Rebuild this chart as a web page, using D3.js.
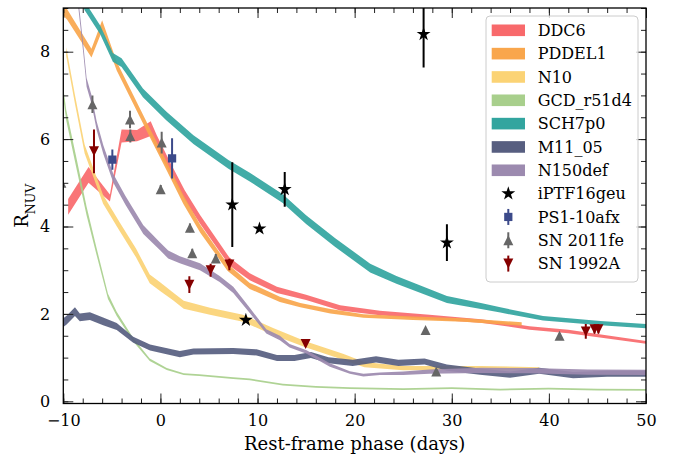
<!DOCTYPE html>
<html>
<head>
<meta charset="utf-8">
<script src="https://cdn.jsdelivr.net/npm/d3@7"></script>
</head>
<body style="margin:0">
<svg id="chart" width="681" height="456"></svg>
<script>
// model bands: [phase, R_NUV, half width]
const ddc6 = [[-9.5, 4.45, 0.18], [-7.4, 5.18, 0.18], [-5.2, 4.65, 0.08], [-4.0, 6.07, 0.15], [-2.4, 6.08, 0.13], [-1.0, 6.24, 0.17], [-0.4, 5.95, 0.15], [1.0, 5.35, 0.12], [2.5, 4.72, 0.11], [4.1, 4.16, 0.1], [7.1, 3.2, 0.09], [9.2, 2.85, 0.08], [12, 2.55, 0.07], [15, 2.38, 0.06], [18.5, 2.14, 0.06], [22.6, 2.02, 0.05], [27.7, 1.93, 0.05], [33, 1.84, 0.04], [38, 1.68, 0.04], [42, 1.6, 0.04], [50, 1.35, 0.03]];
const pddel1 = [[-10, 8.95, 0.12], [-9.6, 8.85, 0.12], [-7.1, 7.97, 0.1], [-6.0, 8.6, 0.12], [-4.5, 7.67, 0.1], [-2.8, 6.91, 0.1], [-1.1, 6.15, 0.1], [0.65, 5.38, 0.1], [2.35, 4.62, 0.1], [4.1, 3.95, 0.09], [6.9, 3.07, 0.08], [9.2, 2.64, 0.07], [12.3, 2.33, 0.06], [14.4, 2.2, 0.05], [17.5, 2.06, 0.05], [20.9, 1.95, 0.04], [26, 1.9, 0.04], [31.2, 1.86, 0.04], [37.2, 1.77, 0.04]];
const n10 = [[-9.7, 8.0, 0.1], [-8.8, 6.91, 0.1], [-7.8, 5.77, 0.1], [-6.9, 5.23, 0.1], [-5.9, 4.62, 0.1], [-4.2, 4.0, 0.1], [-2.5, 3.39, 0.1], [-1.1, 2.8, 0.1], [0, 2.62, 0.1], [1.3, 2.4, 0.09], [2.4, 2.21, 0.09], [5.1, 2.06, 0.08], [8.5, 1.9, 0.08], [11.6, 1.6, 0.08], [15, 1.3, 0.07], [18.8, 1.02, 0.07], [21, 0.84, 0.06], [25, 0.76, 0.05], [33, 0.76, 0.05], [39, 0.74, 0.04]];
const gcd = [[-10, 7.05, 0.12], [-9.7, 6.55, 0.12], [-8.6, 5.4, 0.12], [-7.6, 4.35, 0.1], [-6.6, 3.45, 0.08], [-5.4, 2.4, 0.06], [-4.5, 2.0, 0.05], [-2.8, 1.41, 0.04], [-1.1, 0.95, 0.03], [0.65, 0.74, 0.025], [2.4, 0.62, 0.02], [4, 0.6, 0.02], [7.5, 0.53, 0.02], [9.2, 0.5, 0.02], [12.6, 0.38, 0.02], [16, 0.33, 0.02], [19.5, 0.3, 0.02], [25, 0.28, 0.02], [30, 0.3, 0.02], [35, 0.27, 0.02], [40, 0.29, 0.02], [45, 0.27, 0.02], [50, 0.26, 0.02]];
const sch7p0 = [[-8.2, 9.25, 0.1], [-7.8, 9.05, 0.1], [-6.2, 8.5, 0.1], [-4.9, 7.87, 0.1], [-4.0, 7.75, 0.1], [-1.8, 7.06, 0.1], [0.6, 6.53, 0.1], [3.4, 5.99, 0.1], [7, 5.42, 0.1], [9.2, 5.13, 0.1], [12.6, 4.64, 0.1], [15, 4.16, 0.1], [18, 3.63, 0.1], [21.6, 3.05, 0.1], [24.3, 2.78, 0.09], [29.5, 2.33, 0.08], [33, 2.18, 0.07], [35, 2.09, 0.06], [39.4, 1.9, 0.05], [45.3, 1.79, 0.05], [50, 1.72, 0.05]];
const m11 = [[-10, 1.8, 0.1], [-9.66, 1.86, 0.1], [-8.8, 2.05, 0.1], [-8.3, 1.92, 0.09], [-7.26, 1.95, 0.09], [-5.9, 1.83, 0.09], [-4.5, 1.71, 0.08], [-2.8, 1.41, 0.07], [-1.07, 1.23, 0.07], [2.0, 1.08, 0.07], [3.4, 1.14, 0.07], [7.5, 1.15, 0.07], [9.9, 1.12, 0.07], [12, 0.99, 0.07], [13.8, 0.99, 0.07], [15.5, 1.06, 0.07], [17.3, 0.94, 0.07], [19.8, 0.88, 0.07], [22.2, 0.96, 0.07], [24.5, 0.88, 0.07], [27.2, 0.91, 0.07], [29.5, 0.77, 0.07], [32.9, 0.68, 0.07], [36, 0.61, 0.07], [39, 0.7, 0.07], [42.5, 0.6, 0.07], [46, 0.63, 0.07], [50, 0.63, 0.07]];
const n150def = [[-8.45, 9.1, 0.1], [-7.94, 8.06, 0.1], [-7.6, 7.3, 0.1], [-7.1, 6.91, 0.1], [-6.56, 6.3, 0.1], [-5.88, 5.76, 0.1], [-4.85, 5.1, 0.1], [-3.6, 4.6, 0.1], [-1.76, 3.93, 0.1], [-0.06, 3.55, 0.09], [0.8, 3.36, 0.09], [2.0, 3.24, 0.08], [4.07, 3.08, 0.08], [6.1, 2.8, 0.07], [7.5, 2.55, 0.07], [9.2, 2.08, 0.06], [10.9, 1.6, 0.05], [12.3, 1.45, 0.05], [13.3, 1.27, 0.04], [15.05, 1.13, 0.04], [17.45, 0.83, 0.04], [19.5, 0.66, 0.03], [20.9, 0.6, 0.03], [22.6, 0.63, 0.03], [25, 0.64, 0.04], [27.7, 0.68, 0.05], [33, 0.71, 0.06], [38, 0.7, 0.06], [44, 0.67, 0.06], [50, 0.66, 0.06]];

// observations: [phase, R_NUV, error]
const iptf16geu = [[7.4, 4.5, 0.97], [10.2, 3.95, 0], [12.8, 4.85, 0.4], [27.1, 8.4, 0.76], [29.5, 3.63, 0.42], [8.8, 1.86, 0]];
const ps110afx = [[-4.95, 5.53, 0.23], [1.2, 5.56, 0.46]];
const sn2011fe = [[-10.2, 5.0, 0], [-7.0, 6.8, 0.2], [-3.13, 6.45, 0.2], [-3.1, 6.07, 0.15], [0.13, 5.92, 0.25], [0.03, 4.85, 0.1], [3.04, 3.97, 0.1], [3.28, 3.39, 0.1], [5.7, 3.27, 0.1], [27.3, 1.63, 0.05], [28.4, 0.68, 0.05], [41.1, 1.5, 0.05]];
const sn1992a = [[-6.84, 5.72, 0.5], [2.98, 2.67, 0.19], [5.17, 3.0, 0.15], [7.1, 3.13, 0.13], [14.95, 1.31, 0.05], [43.8, 1.6, 0.17], [44.7, 1.65, 0.1], [45.1, 1.65, 0.1]];

const models = [
  { name: "DDC6", data: ddc6, color: "#f8696b" },
  { name: "PDDEL1", data: pddel1, color: "#f9a64c" },
  { name: "N10", data: n10, color: "#fbd375" },
  { name: "GCD_r51d4", data: gcd, color: "#a8cf8c" },
  { name: "SCH7p0", data: sch7p0, color: "#32a59f" },
  { name: "M11_05", data: m11, color: "#575e80" },
  { name: "N150def", data: n150def, color: "#9c8aaf" },
];

const triUp = { draw(ctx, s) { const r = Math.sqrt(s) / 2; ctx.moveTo(0, -r); ctx.lineTo(r, r); ctx.lineTo(-r, r); ctx.closePath(); } };
const triDown = { draw(ctx, s) { const r = Math.sqrt(s) / 2; ctx.moveTo(0, r); ctx.lineTo(r, -r); ctx.lineTo(-r, -r); ctx.closePath(); } };

const observations = [
  { name: "iPTF16geu", data: iptf16geu, color: "#000000", type: d3.symbolStar, size: 60 },
  { name: "PS1-10afx", data: ps110afx, color: "#3c4a8a", type: d3.symbolSquare, size: 68 },
  { name: "SN 2011fe", data: sn2011fe, color: "#666666", type: triUp, size: 100 },
  { name: "SN 1992A", data: sn1992a, color: "#850000", type: triDown, size: 100 },
];

const serif = "'DejaVu Serif'";
const plotL = 63.3, plotR = 646, plotT = 8, plotB = 403.5;

const svg = d3.select("#chart");

const x = d3.scaleLinear().domain([-10, 50]).range([plotL, plotR]);
const y = d3.scaleLinear().domain([-0.05, 9]).range([plotB, plotT]);

svg
  .append("clipPath")
  .attr("id", "plot-clip")
  .append("rect")
  .attr("x", plotL)
  .attr("y", plotT)
  .attr("width", plotR - plotL)
  .attr("height", plotB - plotT);

const plot = svg.append("g").attr("clip-path", "url(#plot-clip)");

const area = d3
  .area()
  .x((d) => x(d[0]))
  .y0((d) => y(d[1] - d[2]))
  .y1((d) => y(d[1] + d[2]));

plot
  .selectAll("path.band")
  .data(models)
  .enter()
  .append("path")
  .attr("class", "band")
  .attr("d", (d) => area(d.data))
  .attr("fill", (d) => d.color)
  .attr("fill-opacity", 0.92);

observations.forEach((obs) => {
  const g = plot.append("g");
  g.selectAll("line")
    .data(obs.data.filter((d) => d[2] > 0))
    .enter()
    .append("line")
    .attr("x1", (d) => x(d[0]))
    .attr("x2", (d) => x(d[0]))
    .attr("y1", (d) => y(d[1] - d[2]))
    .attr("y2", (d) => y(d[1] + d[2]))
    .attr("stroke", obs.color)
    .attr("stroke-width", 2);
  g.selectAll("path")
    .data(obs.data)
    .enter()
    .append("path")
    .attr("transform", (d) => `translate(${x(d[0])},${y(d[1])})`)
    .attr("d", d3.symbol().type(obs.type).size(obs.size))
    .attr("fill", obs.color);
});

// axes with inward ticks on all sides
function styleAxis(g) {
  g.select(".domain").remove();
  g.selectAll(".tick line").attr("stroke", "#222").attr("stroke-width", 1);
  g.selectAll("text").style("font-family", serif).attr("font-size", 16).attr("fill", "#000");
}

const xMajor = d3.range(-10, 51, 10);
const xMinor = d3.range(-10, 51, 2);
const yMajor = d3.range(0, 9, 2);
const yMinor = d3.range(0, 9.01, 0.5);

svg.append("g").attr("transform", `translate(0,${plotB})`)
  .call(d3.axisBottom(x).tickValues(xMinor).tickSize(-5).tickFormat("")).call(styleAxis);
svg.append("g").attr("transform", `translate(0,${plotB})`)
  .call(d3.axisBottom(x).tickValues(xMajor).tickSize(-10).tickPadding(11)).call(styleAxis);
svg.append("g").attr("transform", `translate(0,${plotT})`)
  .call(d3.axisTop(x).tickValues(xMinor).tickSize(-5).tickFormat("")).call(styleAxis);
svg.append("g").attr("transform", `translate(0,${plotT})`)
  .call(d3.axisTop(x).tickValues(xMajor).tickSize(-10).tickFormat("")).call(styleAxis);
svg.append("g").attr("transform", `translate(${plotL},0)`)
  .call(d3.axisLeft(y).tickValues(yMinor).tickSize(-5).tickFormat("")).call(styleAxis);
svg.append("g").attr("transform", `translate(${plotL},0)`)
  .call(d3.axisLeft(y).tickValues(yMajor).tickSize(-10).tickPadding(13).tickFormat(d3.format("d"))).call(styleAxis);
svg.append("g").attr("transform", `translate(${plotR},0)`)
  .call(d3.axisRight(y).tickValues(yMinor).tickSize(-5).tickFormat("")).call(styleAxis);
svg.append("g").attr("transform", `translate(${plotR},0)`)
  .call(d3.axisRight(y).tickValues(yMajor).tickSize(-10).tickFormat("")).call(styleAxis);

svg
  .append("rect")
  .attr("x", plotL)
  .attr("y", plotT)
  .attr("width", plotR - plotL)
  .attr("height", plotB - plotT)
  .attr("fill", "none")
  .attr("stroke", "#000")
  .attr("stroke-width", 1.3);

svg
  .append("text")
  .style("font-family", serif)
  .attr("text-anchor", "middle")
  .attr("x", (plotL + plotR) / 2)
  .attr("y", 450)
  .attr("font-size", 18)
  .text("Rest-frame phase (days)");

const ylab = svg
  .append("text")
  .style("font-family", serif)
  .attr("text-anchor", "middle")
  .attr("transform", `translate(28,${(plotT + plotB) / 2}) rotate(-90)`)
  .attr("font-size", 18);
ylab.append("tspan").text("R");
ylab.append("tspan").attr("font-size", 12.5).attr("dy", 7).text("NUV");

// legend
const legend = svg.append("g").attr("transform", "translate(486,16)");
legend
  .append("rect")
  .attr("width", 152)
  .attr("height", 266)
  .attr("rx", 4)
  .attr("fill", "#fff")
  .attr("fill-opacity", 0.8)
  .attr("stroke", "#cccccc");

const rowY = (i) => 14.3 + i * 23.33;

models.forEach((m, i) => {
  legend
    .append("rect")
    .attr("x", 5.7)
    .attr("y", rowY(i) - 5.8)
    .attr("width", 33.3)
    .attr("height", 11.6)
    .attr("fill", m.color);
  legend
    .append("text")
    .style("font-family", serif)
    .attr("x", 51.7)
    .attr("y", rowY(i))
    .attr("dy", "0.36em")
    .attr("font-size", 16)
    .text(m.name);
});

observations.forEach((o, j) => {
  const i = j + models.length;
  const cx = 22.3;
  if (o.name !== "iPTF16geu") {
    legend
      .append("line")
      .attr("x1", cx)
      .attr("x2", cx)
      .attr("y1", rowY(i) - 8)
      .attr("y2", rowY(i) + 8)
      .attr("stroke", o.color)
      .attr("stroke-width", 2);
  }
  legend
    .append("path")
    .attr("transform", `translate(${cx},${rowY(i)})`)
    .attr("d", d3.symbol().type(o.type).size(o.size))
    .attr("fill", o.color);
  legend
    .append("text")
    .style("font-family", serif)
    .attr("x", 51.7)
    .attr("y", rowY(i))
    .attr("dy", "0.36em")
    .attr("font-size", 16)
    .text(o.name);
});
</script>
</body>
</html>
